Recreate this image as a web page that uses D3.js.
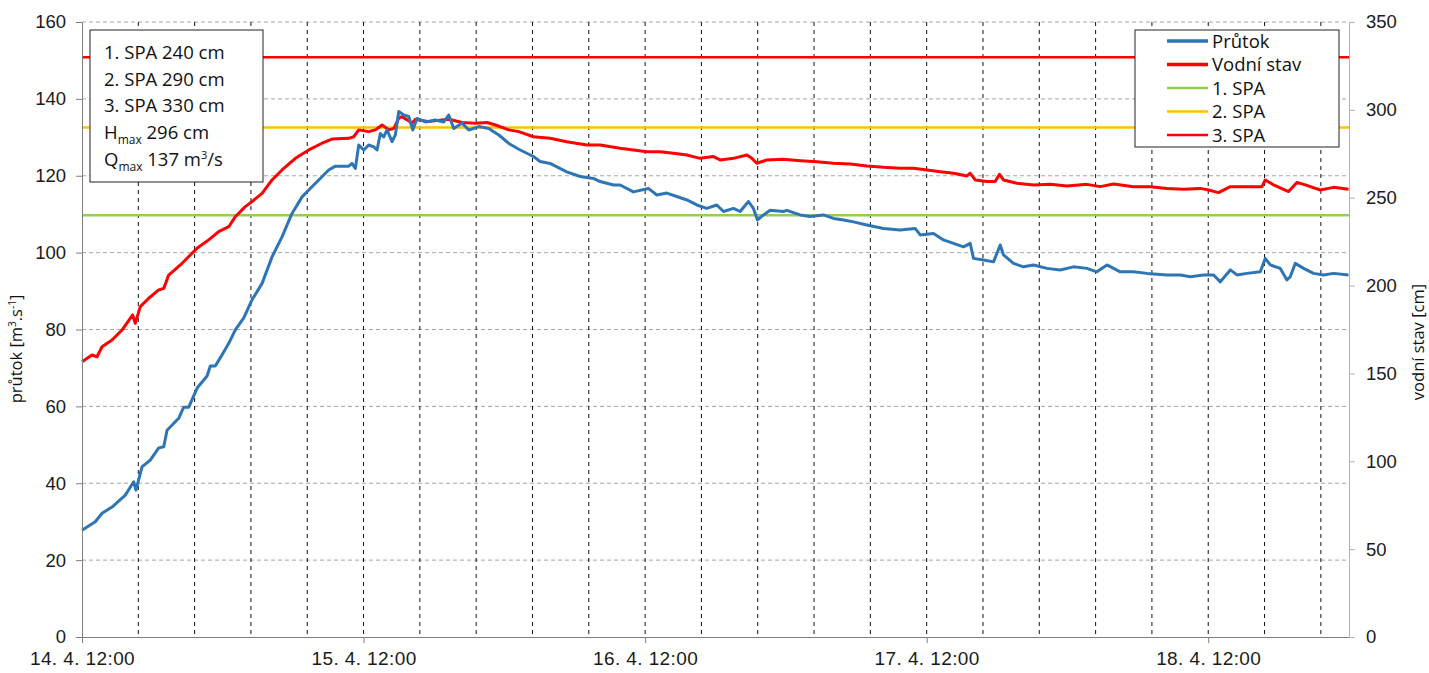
<!DOCTYPE html>
<html>
<head>
<meta charset="utf-8">
<script src="https://cdn.jsdelivr.net/npm/d3@7"></script>
<style>
  body { margin: 0; background: #fff; }
  .axis text { font-family: "Liberation Sans", Arial, sans-serif; font-size: 18.5px; fill: #1a1a1a; }
  .axis path, .axis line { stroke: #7f7f7f; }
  .y2-axis path, .y2-axis line { stroke: #b3b3b3; }
  .x-axis text { font-size: 19px; letter-spacing: 0.4px; }
  .lbl { font-family: "Open Sans", sans-serif; fill: #111; }
</style>
</head>
<body>
<div id="chart"></div>
<script>
// hours from 14. 4. 12:00
var flowHours = [0, 1.13, 1.71, 2.56, 3.69, 4.41, 4.6, 5.12, 5.82, 6.54, 6.97, 7.25, 8.24, 8.67, 9.1, 9.8, 10.66, 10.94, 11.36, 11.94, 12.51, 13.07, 13.79, 14.49, 15.35, 16.2, 17.05, 17.9, 18.76, 19.33, 20.18, 21.03, 21.6, 22.74, 23.02, 23.3, 23.59, 24.02, 24.44, 24.87, 25.15, 25.43, 25.72, 26, 26.43, 26.71, 27, 27.43, 27.85, 28.2, 28.56, 29.27, 30.12, 30.84, 31.26, 31.69, 32.4, 32.97, 33.82, 34.67, 35.53, 36.38, 37.23, 38.48, 39.05, 39.9, 41.32, 42.46, 43.59, 44.16, 45.3, 45.87, 47, 48.28, 49, 49.85, 50.7, 51.56, 52.41, 53.26, 54.11, 54.68, 55.53, 56.1, 56.81, 57.23, 57.58, 58.09, 58.66, 59.79, 60.08, 61.22, 62.07, 63.2, 64.06, 64.91, 65.76, 66.9, 68.32, 69.74, 71.02, 71.45, 72.58, 73.43, 74.29, 75.14, 75.71, 75.99, 76.84, 77.7, 78.27, 78.55, 79.4, 80.25, 81.11, 82.25, 83.38, 84.52, 85.66, 86.51, 87.37, 88.5, 89.64, 90.78, 92.48, 93.62, 94.47, 95.6, 96.46, 97.03, 97.88, 98.45, 99.3, 100.44, 100.86, 101.29, 102.14, 102.71, 102.99, 103.42, 104.13, 104.98, 105.84, 106.69, 107.96]
var flowValues = [27.8, 30, 32.2, 33.8, 36.9, 40.4, 38.2, 44.3, 46, 49.2, 49.5, 53.8, 56.9, 59.8, 59.8, 64.7, 67.9, 70.5, 70.5, 73.4, 76.4, 79.9, 83, 87.7, 92, 98.9, 104.1, 110.2, 114.5, 116.3, 118.9, 121.5, 122.5, 122.5, 123.2, 121.9, 128, 126.7, 128, 127.5, 126.7, 131, 130.1, 131.9, 128.9, 130.6, 136.7, 135.8, 135.4, 131.9, 134.9, 134, 134.5, 134, 135.8, 132.3, 133.7, 131.9, 132.8, 132.3, 130.6, 128.4, 126.9, 125, 123.7, 123.2, 121, 119.8, 119.3, 118.5, 117.6, 117.6, 115.8, 116.7, 115, 115.5, 114.6, 113.7, 112.4, 111.5, 112.4, 110.7, 111.5, 110.7, 113.3, 111.5, 108.5, 109.8, 111, 110.7, 111, 109.8, 109.4, 109.8, 108.9, 108.5, 108, 107.2, 106.3, 105.9, 106.3, 104.6, 105, 103.3, 102.4, 101.5, 102.4, 98.5, 98.1, 97.6, 102, 99.4, 97.2, 96.3, 96.8, 95.9, 95.5, 96.3, 95.9, 95, 96.8, 95, 95, 94.6, 94.2, 94.2, 93.7, 94.2, 94.2, 92.4, 95.5, 94.2, 94.6, 95, 98.5, 96.8, 95.9, 92.9, 93.7, 97.2, 95.9, 94.6, 94.2, 94.6, 94.2]

var levelHours = [0, 0.85, 1.28, 1.71, 2.56, 3.41, 4.32, 4.54, 4.97, 5.69, 6.54, 6.97, 7.39, 8.53, 9.38, 9.8, 10.8, 11.65, 12.51, 13.07, 13.92, 14.49, 15.35, 16.2, 17.05, 18.19, 19.33, 20.46, 21.31, 22.74, 23.16, 23.59, 24.44, 25.01, 25.58, 26.15, 26.58, 27, 27.28, 27.71, 28.14, 28.42, 29.56, 30.69, 31.26, 32.4, 33.53, 34.53, 35.24, 36.38, 37.23, 38.48, 39.9, 41.32, 43.03, 44.16, 45.87, 47, 48.14, 49.28, 50.41, 51.56, 52.69, 53.82, 54.39, 55.53, 56.67, 57.1, 57.52, 58.38, 59.79, 61.22, 62.64, 64.06, 65.48, 66.9, 68.32, 69.74, 70.88, 72.02, 73.15, 74.29, 75.43, 75.71, 76.14, 77.13, 77.84, 78.21, 78.55, 79.69, 81.11, 82.53, 83.95, 85.66, 86.79, 87.93, 89.64, 91.06, 92.48, 93.9, 95.32, 96.03, 96.88, 97.88, 99.3, 100.58, 100.86, 101.57, 102.85, 103.56, 104.27, 105.55, 106.69, 107.96]
var levelValues = [156.7, 160.5, 159.5, 165.2, 169, 174.7, 183.3, 178.5, 188, 192.8, 197.5, 198.4, 206, 212.7, 218.4, 221.2, 226, 230.7, 233.5, 239.2, 244.9, 247.8, 252.5, 260.1, 265.8, 272.4, 277.2, 281, 283.4, 283.8, 284.7, 288.6, 287.6, 288.6, 291.4, 288.6, 289.5, 295.2, 296.1, 294.3, 292.4, 294.7, 293.3, 294.3, 294.7, 292.8, 292.4, 292.8, 291.4, 288.6, 287.6, 284.7, 283.8, 281.9, 280, 280, 278.1, 277.2, 276.2, 276.2, 275.3, 274.3, 272.4, 273.4, 271.5, 272.4, 274.3, 272.4, 269.6, 271.5, 271.9, 271.1, 270.5, 269.6, 269.2, 268.1, 267.3, 266.8, 266.8, 265.8, 264.8, 263.9, 262.4, 263.9, 260.1, 259.2, 259.2, 263.3, 260.1, 258.2, 257.3, 257.6, 256.7, 257.6, 256.3, 257.8, 256.3, 256.3, 255.3, 254.8, 255.3, 254.4, 252.9, 256.3, 256.3, 256.3, 260.1, 257.3, 253.5, 258.7, 257.3, 254.4, 255.9, 254.8]

var spaNames = ['1. SPA', '2. SPA', '3. SPA']
var spaLevels = [240, 290, 330]
var spaColors = ['#92d050', '#ffc000', '#ff0000']

var flowTicks = [0, 20, 40, 60, 80, 100, 120, 140, 160]
var levelTicks = [0, 50, 100, 150, 200, 250, 300, 350]
var dayTickHours = [0, 24, 48, 72, 96]
var gridStepHours = 4.8
var endHours = 108

var margin = { top: 22, right: 80, bottom: 36, left: 82 }
var width = 1429 - margin.left - margin.right
var height = 673 - margin.top - margin.bottom

var start = Date.UTC(2016, 3, 14, 12)
function toDate (h) { return new Date(start + h * 3600000) }

var svg = d3.select('#chart').append('svg')
  .attr('width', 1429)
  .attr('height', 673)
  .append('g')
  .attr('transform', 'translate(' + margin.left + ',' + margin.top + ')')

var x = d3.scaleUtc().domain([toDate(0), toDate(endHours)]).range([0, width])
var yFlow = d3.scaleLinear().domain([0, 160]).range([height, 0])
var yLevel = d3.scaleLinear().domain([0, 350]).range([height, 0])

// horizontal grid
svg.append('g')
  .selectAll('line')
  .data(flowTicks.slice(1))
  .enter().append('line')
  .attr('x1', 0).attr('x2', width)
  .attr('y1', d => yFlow(d)).attr('y2', d => yFlow(d))
  .attr('stroke', '#a6a6a6')
  .attr('stroke-width', 1)
  .attr('stroke-dasharray', '4,3')

// vertical grid every 4.8 h
var gridHours = d3.range(gridStepHours, endHours, gridStepHours)
svg.append('g')
  .selectAll('line')
  .data(gridHours)
  .enter().append('line')
  .attr('x1', d => x(toDate(d))).attr('x2', d => x(toDate(d)))
  .attr('y1', 0).attr('y2', height)
  .attr('stroke', '#111')
  .attr('stroke-width', 1)
  .attr('stroke-dasharray', '4,4')

// SPA lines
svg.append('g')
  .selectAll('line')
  .data(spaLevels)
  .enter().append('line')
  .attr('x1', 0).attr('x2', width)
  .attr('y1', d => yLevel(d)).attr('y2', d => yLevel(d))
  .attr('stroke', (d, i) => spaColors[i])
  .attr('stroke-width', 2.5)

var flowLine = d3.line()
  .x((d, i) => x(toDate(flowHours[i])))
  .y(d => yFlow(d))
var levelLine = d3.line()
  .x((d, i) => x(toDate(levelHours[i])))
  .y(d => yLevel(d))

svg.append('path')
  .datum(levelValues)
  .attr('d', levelLine)
  .attr('fill', 'none')
  .attr('stroke', '#ff0000')
  .attr('stroke-width', 3)
  .attr('stroke-linejoin', 'round')

svg.append('path')
  .datum(flowValues)
  .attr('d', flowLine)
  .attr('fill', 'none')
  .attr('stroke', '#2e75b6')
  .attr('stroke-width', 3)
  .attr('stroke-linejoin', 'round')

// axes
var fmt = d3.utcFormat('%-d. %-m. %H:%M')
svg.append('g')
  .attr('class', 'axis x-axis')
  .attr('transform', 'translate(0,' + height + ')')
  .call(d3.axisBottom(x).tickValues(dayTickHours.map(toDate)).tickFormat(fmt).tickSizeInner(6).tickSizeOuter(0).tickPadding(9))

svg.append('g')
  .attr('class', 'axis y-axis')
  .call(d3.axisLeft(yFlow).tickValues(flowTicks).tickSizeInner(6).tickSizeOuter(0).tickPadding(10))

svg.append('g')
  .attr('class', 'axis y2-axis')
  .attr('transform', 'translate(' + width + ',0)')
  .call(d3.axisRight(yLevel).tickValues(levelTicks).tickSizeInner(6).tickSizeOuter(0).tickPadding(11))

// axis titles
var t1 = svg.append('text')
  .attr('class', 'lbl')
  .style('font-size', '16.5px')
  .attr('transform', 'translate(' + (22 - margin.left) + ',' + 327 + ') rotate(-90)')
  .attr('text-anchor', 'middle')
t1.append('tspan').text('průtok [m')
t1.append('tspan').text('3').style('font-size', '10px').attr('dy', -6)
t1.append('tspan').text('.s').attr('dy', 6)
t1.append('tspan').text('-1').style('font-size', '10px').attr('dy', -6)
t1.append('tspan').text(']').attr('dy', 6)

svg.append('text')
  .attr('class', 'lbl')
  .style('font-size', '16.5px')
  .attr('transform', 'translate(' + (1424 - margin.left) + ',' + 320 + ') rotate(-90)')
  .attr('text-anchor', 'middle')
  .text('vodní stav [cm]')

// info box
var info = svg.append('g').attr('transform', 'translate(' + (90 - margin.left) + ',' + (30 - margin.top) + ')')
info.append('rect')
  .attr('width', 173).attr('height', 152)
  .attr('fill', '#fff').attr('stroke', '#222').attr('stroke-width', 1)
var infoLines = spaNames.map((n, i) => n + ' ' + spaLevels[i] + ' cm')
infoLines.forEach(function (s, i) {
  info.append('text').attr('class', 'lbl').style('font-size', '18.5px')
    .attr('x', 14).attr('y', 29 + i * 26.7).text(s)
})
var hm = info.append('text').attr('class', 'lbl').style('font-size', '18.5px').attr('x', 14).attr('y', 29 + 3 * 26.7)
hm.append('tspan').text('H')
hm.append('tspan').text('max').style('font-size', '12px').attr('dy', 5)
hm.append('tspan').text(' 296 cm').attr('dy', -5)
var qm = info.append('text').attr('class', 'lbl').style('font-size', '18.5px').attr('x', 14).attr('y', 29 + 4 * 26.7)
qm.append('tspan').text('Q')
qm.append('tspan').text('max').style('font-size', '12px').attr('dy', 5)
qm.append('tspan').text(' 137 m').attr('dy', -5)
qm.append('tspan').text('3').style('font-size', '11px').attr('dy', -7)
qm.append('tspan').text('/s').attr('dy', 7)

// legend
var legendNames = ['Průtok', 'Vodní stav'].concat(spaNames)
var legendColors = ['#2e75b6', '#ff0000'].concat(spaColors)
var legend = svg.append('g').attr('transform', 'translate(' + (1135 - margin.left) + ',' + (30 - margin.top) + ')')
legend.append('rect')
  .attr('width', 204).attr('height', 117)
  .attr('fill', '#fff').attr('stroke', '#222').attr('stroke-width', 1)
legendNames.forEach(function (n, i) {
  var yy = 11 + i * 23.5
  legend.append('line')
    .attr('x1', 32).attr('x2', 73).attr('y1', yy).attr('y2', yy)
    .attr('stroke', legendColors[i]).attr('stroke-width', i < 2 ? 3.5 : 2.5)
  legend.append('text').attr('class', 'lbl').style('font-size', '18.5px')
    .attr('x', 77).attr('y', yy + 6.5).text(n)
})
</script>
</body>
</html>
